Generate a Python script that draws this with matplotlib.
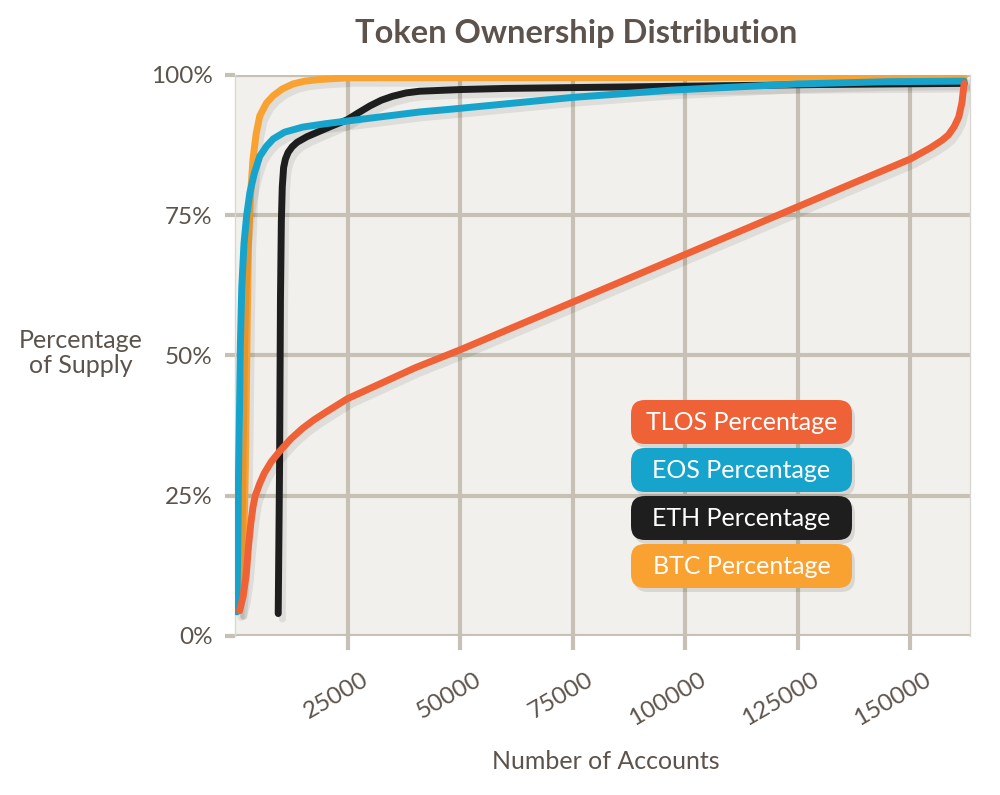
import matplotlib
matplotlib.use('Agg')
import matplotlib.pyplot as plt
import matplotlib.patheffects as pe
from matplotlib.patches import FancyBboxPatch
from matplotlib.transforms import ScaledTranslation

plt.rcParams['font.family'] = ['Lato', 'DejaVu Sans']

# Кривые распределения (количество аккаунтов, % предложения)
tlos_x = [1000, 1800, 2500, 3000, 3500, 4000, 4500, 5500, 6500, 8000, 10000, 12500,
          15000, 17500, 20000, 25000, 31000, 40000, 50000, 75000, 100000, 125000,
          137000, 150000, 154500, 157000, 158500, 159800, 160800, 161500, 162000]
tlos_y = [4.5, 7, 11, 16, 20, 23, 25, 27.2, 29, 31, 33, 35.2,
          37, 38.5, 39.8, 42.3, 44.5, 47.8, 51, 59.5, 68, 76.5,
          80.6, 85, 87, 88.3, 89.3, 90.8, 92.5, 95, 98.5]

eos_x = [400, 600, 800, 1000, 1200, 1500, 2000, 2600, 3300, 4300, 5500, 7000, 8500,
         11000, 15000, 20000, 25000, 41000, 48000, 75000, 97000, 125000, 145000, 162000]
eos_y = [4.3, 15, 30, 40, 52, 62, 70, 75, 79, 82.5, 85.5, 87.3, 88.6,
         89.8, 90.7, 91.3, 91.8, 93.4, 93.9, 96, 97.3, 98.4, 98.8, 98.9]

eth_x = [9600, 9900, 10100, 10300, 10500, 10800, 11200, 11800, 12700, 13800, 16000,
         18900, 21500, 24900, 27500, 30000, 32500, 35000, 38000, 41000, 50000, 60000,
         100000, 130000, 162000]
eth_y = [4, 30, 60, 74, 80, 83.5, 85, 86.2, 87.2, 88, 89,
         90, 90.9, 92, 93.3, 94.5, 95.5, 96.2, 96.8, 97.1, 97.4, 97.6,
         98, 98.3, 98.5]

btc_x = [1000, 1500, 1800, 2100, 2300, 2500, 2700, 3000, 3400, 4000, 4700, 5500,
         7000, 8500, 10500, 12900, 15500, 18900, 25000, 162000]
btc_y = [4.5, 10, 15, 22, 30, 42, 55, 70, 78, 85, 89.5, 92.7,
         95, 96.3, 97.5, 98.4, 98.9, 99.2, 99.5, 99.6]

labels = ['TLOS Percentage', 'EOS Percentage', 'ETH Percentage', 'BTC Percentage']
colors = ['#EF6136', '#16A3CC', '#1E1E1E', '#F9A232']

x_ticks = [25000, 50000, 75000, 100000, 125000, 150000]
y_ticks = [0, 25, 50, 75, 100]
y_tick_labels = ['0%', '25%', '50%', '75%', '100%']

text_color = '#5C534C'
grid_color = '#C6C1B4'

fig = plt.figure(figsize=(10, 7.95), dpi=100)
ax = fig.add_axes([0.235, 0.2, 0.735, 0.7057])
ax.set_facecolor('#F1F0EC')

series = [(tlos_x, tlos_y), (eos_x, eos_y), (eth_x, eth_y), (btc_x, btc_y)]
zorders = [6, 5, 4, 3]
for (xs, ys), c, z in zip(series, colors, zorders):
    ax.plot(xs, ys, color=c, lw=5, zorder=z, solid_capstyle='round',
            solid_joinstyle='round',
            path_effects=[pe.SimpleLineShadow(offset=(3, -4), shadow_color='k', alpha=0.08),
                          pe.Normal()])

ax.set_xlim(0, 163300)
ax.set_ylim(0, 100)
ax.set_xticks(x_ticks)
ax.set_xticklabels([str(v) for v in x_ticks], rotation=30, ha='right',
                   rotation_mode='anchor')
ax.set_yticks(y_ticks)
ax.set_yticklabels(y_tick_labels)
ax.grid(True, color=grid_color, lw=3, zorder=1)
ax.set_axisbelow(True)
ax.tick_params(axis='x', length=10, width=3, color=grid_color, pad=14,
               labelsize=17.5, labelcolor=text_color)
ax.tick_params(axis='y', length=7, width=3, color=grid_color, pad=9,
               labelsize=17.5, labelcolor=text_color)
for lab in ax.get_xticklabels():
    lab.set_transform(lab.get_transform() + ScaledTranslation(0.14, 0, fig.dpi_scale_trans))

for s in ['top', 'bottom']:
    ax.spines[s].set_visible(False)
for s in ['left', 'right']:
    ax.spines[s].set_color('#DAD7D0')
    ax.spines[s].set_linewidth(1)

fig.text(0.576, 0.958, 'Token Ownership Distribution', ha='center', va='center',
         fontsize=23.5, fontweight='bold', color=text_color)
fig.text(0.081, 0.556, 'Percentage\nof Supply', ha='center', va='center',
         fontsize=18, color=text_color, linespacing=1.15)
fig.text(0.606, 0.042, 'Number of Accounts', ha='center', va='center',
         fontsize=18, color=text_color)

# Легенда в виде скруглённых плашек
box_left, box_w, box_h = 631, 221, 44
box_tops = [400, 448, 496, 544]
for lab, c, top in zip(labels, colors, box_tops):
    y0 = 795 - top - box_h
    shadow = FancyBboxPatch((box_left + 3, y0 - 4), box_w, box_h,
                            boxstyle='round,pad=0,rounding_size=14',
                            transform=None, facecolor='k', alpha=0.1,
                            edgecolor='none', zorder=9)
    box = FancyBboxPatch((box_left, y0), box_w, box_h,
                         boxstyle='round,pad=0,rounding_size=14',
                         transform=None, facecolor=c, edgecolor='none', zorder=10)
    fig.patches.extend([shadow, box])
    fig.text((box_left + box_w / 2) / 1000, (y0 + box_h / 2) / 795, lab,
             ha='center', va='center', fontsize=18, color='white', zorder=11)

fig.savefig('out.png', dpi=100)
